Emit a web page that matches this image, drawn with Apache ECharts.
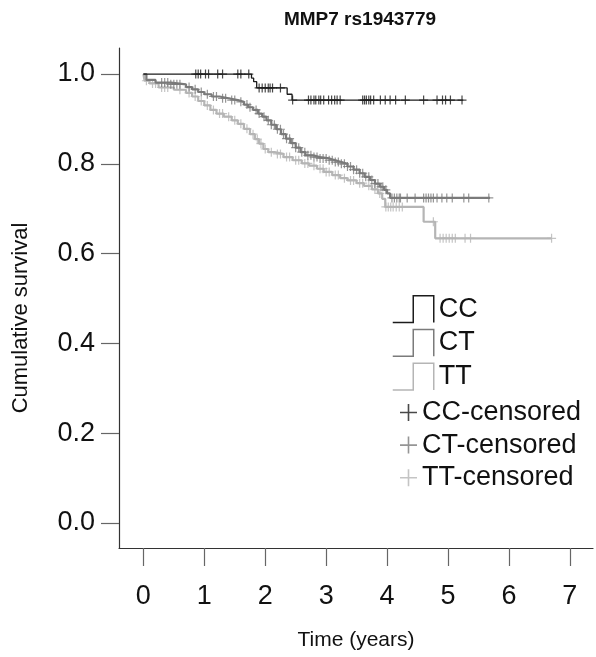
<!DOCTYPE html>
<html><head><meta charset="utf-8">
<script src="https://cdn.jsdelivr.net/npm/echarts@6/dist/echarts.min.js"></script>
<style>html,body{margin:0;padding:0;background:#fff}#c{width:596px;height:657px}</style>
</head><body><div id="c"></div>
<script>
// ---- data ----
const chartTitle = 'MMP7 rs1943779';
const xTicks = [0, 1, 2, 3, 4, 5, 6, 7];
const yTicks = [0, 0.2, 0.4, 0.6, 0.8, 1.0];

// Kaplan-Meier steps: [time, survival from this time on]
const ccSteps = [[0,1.0],[1.775,0.991],[1.81,0.983],[1.86,0.969],[2.36,0.955],[2.44,0.942],[5.25,0.942]];
const ctSteps = [[0,1.0],[0.05,0.987],[0.2,0.981],[0.45,0.977],[0.7,0.971],[0.8,0.966],[0.9,0.96],[1.0,0.955],
  [1.12,0.95],[1.25,0.946],[1.4,0.942],[1.55,0.938],[1.65,0.932],[1.72,0.926],[1.8,0.92],[1.88,0.912],
  [1.95,0.905],[2.02,0.897],[2.1,0.887],[2.18,0.877],[2.26,0.866],[2.34,0.856],[2.42,0.846],[2.5,0.836],
  [2.58,0.826],[2.66,0.819],[2.78,0.815],[2.9,0.812],[3.05,0.808],[3.15,0.804],[3.25,0.8],[3.35,0.794],
  [3.45,0.787],[3.55,0.779],[3.63,0.771],[3.72,0.764],[3.8,0.756],[3.88,0.749],[3.95,0.742],[4.0,0.734],
  [4.05,0.724],[5.69,0.724]];
const ttSteps = [[0,1.0],[0.02,0.985],[0.1,0.979],[0.25,0.97],[0.5,0.965],[0.7,0.958],[0.8,0.95],[0.9,0.94],
  [1.0,0.93],[1.1,0.92],[1.2,0.912],[1.32,0.905],[1.45,0.897],[1.55,0.889],[1.65,0.878],[1.75,0.866],
  [1.83,0.855],[1.9,0.845],[1.97,0.833],[2.05,0.826],[2.15,0.822],[2.3,0.815],[2.45,0.808],[2.6,0.801],
  [2.72,0.796],[2.85,0.789],[2.96,0.782],[3.1,0.775],[3.23,0.768],[3.35,0.763],[3.5,0.757],[3.62,0.751],
  [3.75,0.743],[3.85,0.734],[3.92,0.722],[3.97,0.704],[4.6,0.671],[4.79,0.634],[6.70,0.634]];

// censoring times
const ccCensored = [0.86,0.9,0.94,1.02,1.07,1.22,1.30,1.55,1.60,1.73,1.90,1.95,2.0,2.05,2.08,2.12,2.25,
  2.45,2.71,2.75,2.80,2.83,2.88,2.91,2.96,3.04,3.09,3.14,3.18,3.23,3.60,3.63,3.66,3.70,3.73,3.78,
  3.89,3.97,4.05,4.14,4.30,4.60,4.82,4.91,4.96,5.04,5.23];
const ctCensored = [0.3,0.35,0.4,0.45,0.5,0.55,0.6,0.75,0.85,0.95,1.05,1.15,1.2,1.3,1.35,1.45,1.5,1.6,
  1.7,1.75,1.85,1.9,1.98,2.05,2.1,2.15,2.2,2.25,2.3,2.35,2.4,2.45,2.5,2.55,2.6,2.65,2.7,2.75,2.8,2.85,
  2.9,2.95,3.0,3.05,3.1,3.15,3.2,3.25,3.3,3.35,3.4,3.45,3.5,3.55,3.6,3.65,3.7,3.75,3.8,3.85,3.9,3.93,
  3.98,4.08,4.12,4.16,4.2,4.22,4.33,4.46,4.6,4.64,4.68,4.72,4.76,4.82,4.9,4.98,5.07,5.26,5.34,5.67];
const ttCensored = [0.05,0.15,0.2,0.3,0.35,0.4,0.6,0.75,0.85,0.95,1.05,1.15,1.25,1.3,1.4,1.5,1.6,1.7,
  1.8,1.87,1.93,2.0,2.1,2.2,2.25,2.35,2.4,2.5,2.55,2.65,2.7,2.8,2.9,2.95,3.0,3.05,3.15,3.2,3.3,3.4,
  3.45,3.55,3.6,3.7,3.8,3.88,3.98,4.02,4.06,4.1,4.15,4.2,4.25,4.76,4.87,4.92,4.97,5.02,5.07,5.12,
  5.28,5.37,6.70];

const groupNames = ['CC', 'CT', 'TT'];
const censoredNames = ['CC-censored', 'CT-censored', 'TT-censored'];

// ---- styling ----
const colors = ['#1c1c1c', '#7b7b7b', '#b5b5b5'];
const lineWidths = [1.3, 2.2, 2.2];
const FONT = '"Liberation Sans", Arial, sans-serif';
const plusSymbol = 'path://M0,3.9H9V5.1H0Z M3.9,0H5.1V9H3.9Z';
const plusLegend = 'path://M0,7.7H17V9.3H0Z M7.7,0H9.3V17H7.7Z';
const stepLegend = 'path://M0,26L20,26L20,0L40,0L40,26';

function survAt(steps, t) {
  let s = steps[0][1];
  for (const p of steps) { if (p[0] <= t) s = p[1]; }
  return s;
}
const stepSets = [ccSteps, ctSteps, ttSteps];
const censSets = [ccCensored, ctCensored, ttCensored];

const series = [];
for (let i = 2; i >= 0; i--) {
  series.push({
    type: 'line', name: groupNames[i], step: 'end', data: stepSets[i],
    symbol: 'none', lineStyle: { color: colors[i], width: lineWidths[i] }, itemStyle: { color: colors[i] },
    z: 3 + (2 - i), silent: true, animation: false
  });
  series.push({
    type: 'scatter', name: censoredNames[i],
    data: censSets[i].map(t => [t, survAt(stepSets[i], t)]),
    symbol: plusSymbol, symbolSize: 9, itemStyle: { color: colors[i] },
    z: 3 + (2 - i), silent: true, animation: false
  });
}

const chart = echarts.init(document.getElementById('c'), null, { renderer: 'canvas' });
chart.setOption({
  backgroundColor: '#fff',
  animation: false,
  textStyle: { fontFamily: FONT },
  title: {
    text: chartTitle, left: 355, top: 5, textAlign: 'center',
    textStyle: { fontFamily: FONT, fontSize: 19, fontWeight: 'bold', color: '#111' }
  },
  grid: { left: 119, right: 3, top: 48, bottom: 109, containLabel: false, outerBoundsMode: 'none' },
  legend: [{
    orient: 'vertical', left: 387, top: 290, itemWidth: 41, itemHeight: 27, itemGap: 5.6,
    selectedMode: false,
    textStyle: { fontFamily: FONT, fontSize: 27, color: '#111' },
    data: groupNames.map((n, i) => ({
      name: n, icon: stepLegend,
      itemStyle: { color: 'rgba(0,0,0,0)', borderColor: colors[i], borderWidth: 1.5 }
    }))
  }, {
    orient: 'vertical', left: 395, top: 394, itemWidth: 17, itemHeight: 17, itemGap: 5.6,
    selectedMode: false,
    textStyle: { fontFamily: FONT, fontSize: 27, color: '#111' },
    data: censoredNames.map((n, i) => ({
      name: n, icon: plusLegend, itemStyle: { color: colors[i], borderWidth: 0 }
    }))
  }],
  xAxis: {
    type: 'value', min: -0.4, max: 7.38,
    axisLine: { show: true, onZero: false, lineStyle: { color: '#333', width: 1.2 } },
    axisTick: { show: true, customValues: xTicks, length: 18, lineStyle: { color: '#666', width: 1.2 } },
    axisLabel: { customValues: xTicks, margin: 35, fontSize: 27, color: '#111', fontFamily: FONT },
    splitLine: { show: false },
    name: 'Time (years)', nameLocation: 'middle', nameGap: 82,
    nameTextStyle: { fontSize: 21, color: '#111', fontFamily: FONT }
  },
  yAxis: {
    type: 'value', min: -0.0557, max: 1.058,
    axisLine: { show: true, onZero: false, lineStyle: { color: '#333', width: 1.2 } },
    axisTick: { show: true, customValues: yTicks, length: 18, lineStyle: { color: '#666', width: 1.2 } },
    axisLabel: { customValues: yTicks, margin: 24, fontSize: 27, color: '#111', fontFamily: FONT,
      formatter: v => v.toFixed(1) },
    splitLine: { show: false },
    name: 'Cumulative survival', nameLocation: 'middle', nameGap: 87,
    nameTextStyle: { fontSize: 22, color: '#111', fontFamily: FONT, padding: [0, 40, 0, 0] }
  },
  series: series
});
</script>
</body></html>
